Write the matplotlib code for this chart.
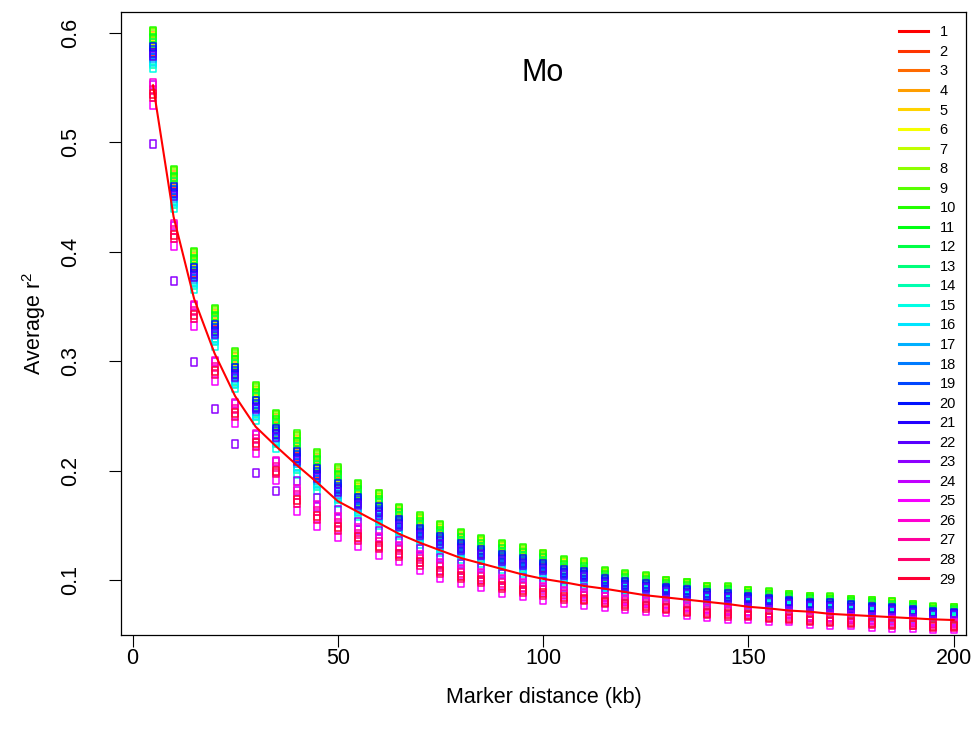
import numpy as np
import matplotlib
matplotlib.use("Agg")
import matplotlib.pyplot as plt
from matplotlib.path import Path
from matplotlib.colors import hsv_to_rgb
from matplotlib.lines import Line2D

plt.rcParams['font.family'] = ['Liberation Sans', 'DejaVu Sans']
plt.rcParams['mathtext.fontset'] = 'custom'
plt.rcParams['mathtext.rm'] = 'Liberation Sans'
plt.rcParams['mathtext.default'] = 'regular'

# marker distance (kb)
distance = [5, 10, 15, 20, 25, 30, 35, 40, 45, 50,
            55, 60, 65, 70, 75, 80, 85, 90, 95, 100,
            105, 110, 115, 120, 125, 130, 135, 140, 145, 150,
            155, 160, 165, 170, 175, 180, 185, 190, 195, 200]

# highest and lowest average r2 seen in each column
col_top = [0.602, 0.475, 0.400, 0.348, 0.308, 0.277, 0.252, 0.233, 0.216, 0.202,
           0.188, 0.179, 0.166, 0.158, 0.150, 0.143, 0.1375, 0.133, 0.129, 0.124,
           0.118, 0.116, 0.108, 0.105, 0.1034, 0.0994, 0.0976, 0.0939, 0.0933, 0.0902,
           0.0887, 0.0866, 0.0847, 0.0842, 0.082, 0.0811, 0.0799, 0.0774, 0.075, 0.0744]
col_bottom = [0.533, 0.404, 0.331, 0.280, 0.242, 0.215, 0.190, 0.1615, 0.148, 0.138,
              0.1295, 0.122, 0.116, 0.108, 0.1006, 0.096, 0.093, 0.087, 0.084, 0.081,
              0.078, 0.0765, 0.0747, 0.0726, 0.0707, 0.070, 0.0671, 0.0655, 0.064, 0.0634,
              0.062, 0.0616, 0.0595, 0.0586, 0.058, 0.0564, 0.0558, 0.0558, 0.0549, 0.0549]

# where each of the 29 series sits inside a column (0 = lowest, 1 = highest)
series_pos = [0.72, 0.80, 0.86, 0.93, 0.985, 0.91, 0.88, 0.95, 0.98, 1.00,
              0.90, 0.84, 0.60, 0.56, 0.50, 0.58, 0.64, 0.68, 0.74, 0.78,
              0.70, 0.66, 0.40, 0.28, 0.02, 0.30, 0.22, 0.12, 0.16]

# series 23 falls below the others at short distances
s23_low = [0.498, 0.373, 0.299, 0.256, 0.224, 0.1975, 0.181]

# fitted decay curve
fit = [0.552, 0.432, 0.357, 0.307, 0.268, 0.240, 0.222, 0.205, 0.189, 0.172,
       0.162, 0.152, 0.142, 0.134, 0.127, 0.120, 0.115, 0.110, 0.105, 0.101,
       0.098, 0.0945, 0.092, 0.089, 0.086, 0.084, 0.082, 0.080, 0.078, 0.0755,
       0.074, 0.072, 0.071, 0.069, 0.068, 0.067, 0.066, 0.065, 0.064, 0.0634]

labels = [str(i) for i in range(1, 30)]

x = np.array(distance)
top = np.array(col_top)
bot = np.array(col_bottom)
n = len(labels)
colors = [hsv_to_rgb((i / n, 1, 1)) for i in range(n)]

# tall open rectangle like R's squashed pch=0
rect = Path([(-0.32, -0.5), (0.32, -0.5), (0.32, 0.5), (-0.32, 0.5), (-0.32, -0.5)],
            [Path.MOVETO, Path.LINETO, Path.LINETO, Path.LINETO, Path.CLOSEPOLY])

fig = plt.figure(figsize=(9.79, 7.42), dpi=100)
ax = fig.add_axes([0.1236, 0.1442, 0.8631, 0.8396])

for i in range(n):
    y = bot + series_pos[i] * (top - bot)
    if i == 22:
        y[:len(s23_low)] = s23_low
    ax.plot(x, y, linestyle='none', marker=rect, markersize=6,
            markerfacecolor='none', markeredgecolor=colors[i], markeredgewidth=1.1)

ax.plot(x, fit, color='red', lw=1.5)

ax.text(100, 0.563, 'Mo', fontsize=22, ha='center', va='center')

handles = [Line2D([], [], color=c, lw=2.2) for c in colors]
ax.legend(handles, labels, loc='upper right', frameon=False, fontsize=10.5,
          handlelength=2.0, handletextpad=0.8, labelspacing=0.38,
          bbox_to_anchor=(1.0, 0.995), borderaxespad=0.3)

ax.set_xlim(-2.8, 203)
ax.set_ylim(0.0497, 0.619)
ax.set_xticks([0, 50, 100, 150, 200])
ax.set_yticks([0.1, 0.2, 0.3, 0.4, 0.5, 0.6])
ax.tick_params(direction='out', length=8.5, width=0.8, labelsize=15.5)
ax.tick_params(axis='x', pad=0.5)
ax.tick_params(axis='y', pad=20)
for lab in ax.get_yticklabels():
    lab.set_rotation(90)
    lab.set_va('center')
ax.set_xlabel('Marker distance (kb)', fontsize=15.5, labelpad=13.5)
ax.set_ylabel('Average r$^{2}$', fontsize=15.5, labelpad=9)
for s in ax.spines.values():
    s.set_linewidth(0.9)

fig.savefig('out.png', dpi=100)
